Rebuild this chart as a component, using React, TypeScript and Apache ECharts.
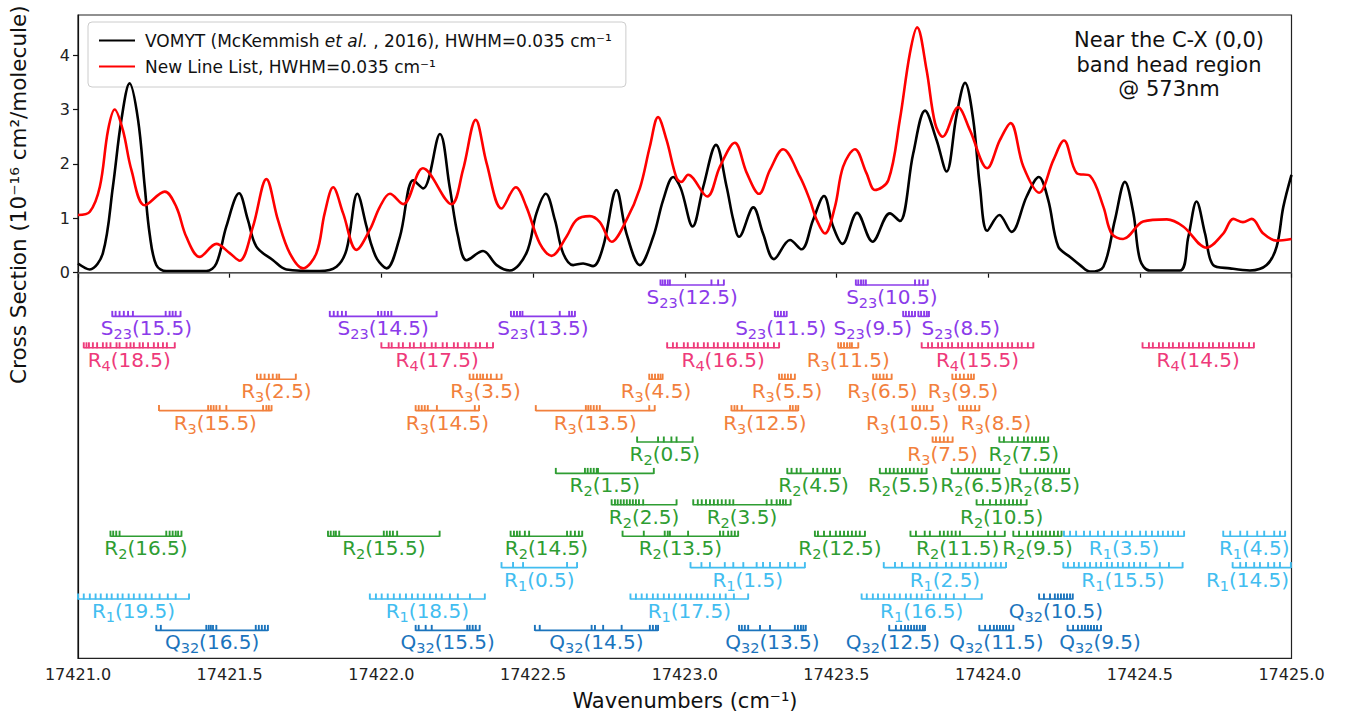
import React, { useEffect, useRef } from "react";
import * as echarts from "echarts";

// ---- Axis ranges and ticks ----
const X_MIN = 17421;
const X_MAX = 17425;
const X_STEP = 0.5;
const Y_MIN = -7.088;
const Y_MAX = 4.737;
const Y_TICKS = [0, 1, 2, 3, 4];

// ---- Cross-section curves: [wavenumber (cm^-1), cross section (1e-16 cm^2/molecule)] ----
const VOMYT_CURVE: [number, number][] = [
  [17421.0, 0.17], [17421.039, 0.06], [17421.082, 0.36], [17421.115, 1.58], [17421.143, 2.81],
  [17421.17, 3.48], [17421.198, 2.81], [17421.22, 1.58], [17421.236, 0.72], [17421.258, 0.14],
  [17421.291, 0.03], [17421.423, 0.03], [17421.456, 0.17], [17421.489, 0.85], [17421.531, 1.46],
  [17421.56, 0.97], [17421.588, 0.48], [17421.643, 0.23], [17421.687, 0.06], [17421.797, 0.03],
  [17421.852, 0.11], [17421.885, 0.42], [17421.921, 1.45], [17421.951, 0.85], [17421.965, 0.55],
  [17421.986, 0.25], [17422.017, 0.08], [17422.061, 0.66], [17422.105, 1.7], [17422.138, 1.55],
  [17422.193, 2.55], [17422.225, 1.58], [17422.253, 0.66], [17422.281, 0.23], [17422.335, 0.4],
  [17422.38, 0.14], [17422.423, 0.04], [17422.478, 0.36], [17422.511, 1.09], [17422.542, 1.45],
  [17422.572, 0.97], [17422.599, 0.36], [17422.632, 0.14], [17422.665, 0.17], [17422.698, 0.12],
  [17422.731, 0.48], [17422.775, 1.52], [17422.808, 0.72], [17422.852, 0.14], [17422.896, 0.66],
  [17422.929, 1.34], [17422.962, 1.76], [17422.987, 1.55], [17423.026, 0.85], [17423.061, 1.58],
  [17423.103, 2.35], [17423.138, 1.58], [17423.16, 0.97], [17423.179, 0.66], [17423.226, 1.2],
  [17423.258, 0.72], [17423.294, 0.25], [17423.347, 0.6], [17423.385, 0.43], [17423.423, 0.97],
  [17423.459, 1.41], [17423.489, 0.85], [17423.52, 0.53], [17423.568, 1.1], [17423.619, 0.57],
  [17423.676, 1.09], [17423.709, 0.95], [17423.753, 2.19], [17423.792, 2.98], [17423.83, 2.44],
  [17423.863, 1.86], [17423.896, 2.9], [17423.924, 3.49], [17423.951, 2.81], [17423.973, 1.58],
  [17423.997, 0.77], [17424.037, 1.06], [17424.077, 0.75], [17424.127, 1.4], [17424.167, 1.76],
  [17424.198, 1.34], [17424.231, 0.48], [17424.27, 0.29], [17424.303, 0.14], [17424.336, 0.02],
  [17424.38, 0.11], [17424.418, 0.97], [17424.451, 1.67], [17424.479, 1.09], [17424.501, 0.23],
  [17424.533, 0.04], [17424.632, 0.04], [17424.66, 0.66], [17424.687, 1.31], [17424.715, 0.72],
  [17424.742, 0.14], [17424.797, 0.08], [17424.863, 0.04], [17424.918, 0.14], [17424.951, 0.48],
  [17424.973, 1.21], [17425.0, 1.8],
];

const NEW_LIST_CURVE: [number, number][] = [
  [17421.0, 1.06], [17421.039, 1.12], [17421.072, 1.58], [17421.099, 2.62], [17421.121, 3.0],
  [17421.148, 2.62], [17421.176, 1.89], [17421.22, 1.24], [17421.286, 1.49], [17421.324, 1.21],
  [17421.357, 0.66], [17421.401, 0.29], [17421.456, 0.53], [17421.5, 0.36], [17421.533, 0.22],
  [17421.577, 0.85], [17421.621, 1.72], [17421.659, 0.97], [17421.698, 0.36], [17421.742, 0.08],
  [17421.786, 0.36], [17421.813, 1.09], [17421.841, 1.57], [17421.874, 1.09], [17421.918, 0.42],
  [17421.962, 0.79], [17421.995, 1.21], [17422.028, 1.45], [17422.072, 1.26], [17422.137, 1.92],
  [17422.231, 1.26], [17422.269, 1.89], [17422.311, 2.81], [17422.347, 2.01], [17422.396, 1.18],
  [17422.443, 1.57], [17422.478, 1.21], [17422.522, 0.54], [17422.561, 0.31], [17422.61, 0.66],
  [17422.643, 0.97], [17422.687, 1.04], [17422.72, 0.93], [17422.759, 0.57], [17422.808, 0.97],
  [17422.852, 1.55], [17422.885, 2.32], [17422.912, 2.86], [17422.94, 2.44], [17422.973, 1.74],
  [17422.989, 1.67], [17423.011, 1.8], [17423.074, 1.4], [17423.116, 1.95], [17423.165, 2.39],
  [17423.204, 1.84], [17423.245, 1.45], [17423.281, 1.89], [17423.324, 2.27], [17423.38, 1.76],
  [17423.412, 1.34], [17423.435, 0.97], [17423.462, 0.72], [17423.495, 1.21], [17423.522, 1.95],
  [17423.561, 2.27], [17423.599, 1.83], [17423.627, 1.52], [17423.671, 1.7], [17423.709, 2.81],
  [17423.742, 4.03], [17423.766, 4.51], [17423.797, 3.73], [17423.825, 2.75], [17423.85, 2.5],
  [17423.901, 3.04], [17423.94, 2.62], [17423.997, 1.92], [17424.039, 2.44], [17424.074, 2.75],
  [17424.116, 1.95], [17424.168, 1.47], [17424.215, 2.07], [17424.25, 2.43], [17424.292, 1.83],
  [17424.336, 1.78], [17424.38, 1.21], [17424.407, 0.72], [17424.445, 0.62], [17424.511, 0.94],
  [17424.589, 0.98], [17424.643, 0.85], [17424.72, 0.46], [17424.775, 0.72], [17424.808, 0.99],
  [17424.84, 0.93], [17424.869, 0.99], [17424.907, 0.72], [17424.951, 0.59], [17425.0, 0.62],
];

// ---- Line assignments: branch, J, row of the stick diagram, line positions (cm^-1) ----
type Assignment = { j: string; row: number; lines: number[]; labelAt?: number };

const S23_LINES: Assignment[] = [
  { j: "12.5", row: 0, lines: [17422.92, 17422.927, 17422.935, 17422.944, 17422.951, 17423.088, 17423.11, 17423.129] },
  { j: "10.5", row: 0, lines: [17423.564, 17423.572, 17423.581, 17423.589, 17423.597, 17423.759, 17423.773, 17423.786, 17423.801] },
  { j: "15.5", row: 1, lines: [17421.113, 17421.124, 17421.137, 17421.151, 17421.165, 17421.181, 17421.289, 17421.302, 17421.312, 17421.322, 17421.338] },
  { j: "14.5", row: 1, lines: [17421.83, 17421.843, 17421.856, 17421.87, 17421.883, 17421.989, 17422.0, 17422.011, 17422.022, 17422.033, 17422.182] },
  { j: "13.5", row: 1, lines: [17422.427, 17422.437, 17422.447, 17422.457, 17422.465, 17422.588, 17422.619, 17422.628, 17422.638] },
  { j: "11.5", row: 1, lines: [17423.297, 17423.307, 17423.317, 17423.327, 17423.336] },
  { j: "9.5", row: 1, lines: [17423.72, 17423.729, 17423.739, 17423.749, 17423.759], labelAt: 17423.62 },
  { j: "8.5", row: 1, lines: [17423.77, 17423.779, 17423.789, 17423.798, 17423.805], labelAt: 17423.91 },
];

const R4_LINES: Assignment[] = [
  { j: "18.5", row: 2, lines: [17421.019, 17421.028, 17421.036, 17421.049, 17421.063, 17421.082, 17421.094, 17421.107, 17421.127, 17421.137, 17421.16, 17421.173, 17421.184, 17421.203, 17421.214, 17421.231, 17421.25, 17421.264, 17421.28, 17421.293, 17421.319] },
  { j: "17.5", row: 2, lines: [17422.0, 17422.024, 17422.034, 17422.057, 17422.071, 17422.094, 17422.107, 17422.13, 17422.143, 17422.166, 17422.179, 17422.202, 17422.216, 17422.239, 17422.252, 17422.275, 17422.288, 17422.311, 17422.325, 17422.348, 17422.368] },
  { j: "16.5", row: 2, lines: [17422.942, 17422.961, 17422.974, 17422.997, 17423.01, 17423.03, 17423.043, 17423.063, 17423.076, 17423.096, 17423.109, 17423.129, 17423.142, 17423.162, 17423.175, 17423.195, 17423.208, 17423.228, 17423.241, 17423.261, 17423.274, 17423.294, 17423.311] },
  { j: "15.5", row: 2, lines: [17423.781, 17423.802, 17423.815, 17423.835, 17423.848, 17423.868, 17423.881, 17423.901, 17423.914, 17423.934, 17423.947, 17423.967, 17423.98, 17424.0, 17424.013, 17424.032, 17424.046, 17424.065, 17424.079, 17424.098, 17424.111, 17424.131, 17424.149] },
  { j: "14.5", row: 2, lines: [17424.509, 17424.53, 17424.543, 17424.563, 17424.576, 17424.596, 17424.609, 17424.629, 17424.642, 17424.662, 17424.675, 17424.695, 17424.708, 17424.728, 17424.741, 17424.761, 17424.774, 17424.794, 17424.807, 17424.827, 17424.84, 17424.86, 17424.876] },
];

const R3_LINES: Assignment[] = [
  { j: "11.5", row: 2, lines: [17423.506, 17423.515, 17423.525, 17423.535, 17423.544, 17423.551, 17423.572] },
  { j: "2.5", row: 3, lines: [17421.59, 17421.602, 17421.615, 17421.629, 17421.642, 17421.655, 17421.663, 17421.718] },
  { j: "3.5", row: 3, lines: [17422.291, 17422.303, 17422.315, 17422.326, 17422.335, 17422.348, 17422.361, 17422.38, 17422.396] },
  { j: "4.5", row: 3, lines: [17422.883, 17422.892, 17422.902, 17422.912, 17422.92, 17422.927] },
  { j: "5.5", row: 3, lines: [17423.311, 17423.32, 17423.33, 17423.34, 17423.35, 17423.363] },
  { j: "6.5", row: 3, lines: [17423.621, 17423.632, 17423.643, 17423.655, 17423.666, 17423.682] },
  { j: "9.5", row: 3, lines: [17423.882, 17423.894, 17423.907, 17423.92, 17423.934, 17423.944, 17423.953] },
  { j: "15.5", row: 4, lines: [17421.267, 17421.429, 17421.438, 17421.447, 17421.456, 17421.467, 17421.489, 17421.61, 17421.621, 17421.629, 17421.638] },
  { j: "14.5", row: 4, lines: [17422.113, 17422.123, 17422.133, 17422.143, 17422.153, 17422.183, 17422.308, 17422.322] },
  { j: "13.5", row: 4, lines: [17422.509, 17422.674, 17422.682, 17422.69, 17422.7, 17422.71, 17422.72, 17422.883, 17422.901] },
  { j: "12.5", row: 4, lines: [17423.154, 17423.164, 17423.173, 17423.188, 17423.347, 17423.356, 17423.366, 17423.374] },
  { j: "10.5", row: 4, lines: [17423.751, 17423.762, 17423.775, 17423.788, 17423.798, 17423.817], labelAt: 17423.735 },
  { j: "8.5", row: 4, lines: [17423.905, 17423.917, 17423.93, 17423.943, 17423.957, 17423.971], labelAt: 17424.026 },
  { j: "7.5", row: 5, lines: [17423.817, 17423.828, 17423.841, 17423.854, 17423.867, 17423.883] },
];

const R2_LINES: Assignment[] = [
  { j: "0.5", row: 5, lines: [17422.843, 17422.912, 17422.931, 17422.956, 17422.973, 17423.026] },
  { j: "7.5", row: 5, lines: [17424.037, 17424.052, 17424.079, 17424.098, 17424.118, 17424.131, 17424.145, 17424.158, 17424.171, 17424.184, 17424.198] },
  { j: "1.5", row: 6, lines: [17422.575, 17422.671, 17422.68, 17422.69, 17422.7, 17422.71, 17422.714, 17422.898] },
  { j: "4.5", row: 6, lines: [17423.338, 17423.352, 17423.369, 17423.382, 17423.423, 17423.437, 17423.456, 17423.468, 17423.482, 17423.495, 17423.511] },
  { j: "5.5", row: 6, lines: [17423.643, 17423.663, 17423.676, 17423.689, 17423.702, 17423.716, 17423.729, 17423.742, 17423.755, 17423.768, 17423.781, 17423.797] },
  { j: "6.5", row: 6, lines: [17423.88, 17423.901, 17423.924, 17423.937, 17423.95, 17423.963, 17423.977, 17423.99, 17424.003, 17424.016, 17424.037] },
  { j: "8.5", row: 6, lines: [17424.107, 17424.128, 17424.155, 17424.171, 17424.184, 17424.197, 17424.21, 17424.224, 17424.237, 17424.25, 17424.267] },
  { j: "2.5", row: 7, lines: [17422.759, 17422.77, 17422.779, 17422.789, 17422.799, 17422.809, 17422.819, 17422.829, 17422.839, 17422.849, 17422.863, 17422.973] },
  { j: "3.5", row: 7, lines: [17423.028, 17423.043, 17423.056, 17423.07, 17423.083, 17423.096, 17423.109, 17423.122, 17423.135, 17423.148, 17423.16, 17423.27, 17423.286, 17423.303, 17423.314, 17423.324, 17423.333, 17423.349] },
  { j: "10.5", row: 7, lines: [17423.962, 17423.983, 17424.006, 17424.026, 17424.042, 17424.055, 17424.069, 17424.082, 17424.095, 17424.108, 17424.127] },
  { j: "16.5", row: 8, lines: [17421.107, 17421.116, 17421.126, 17421.137, 17421.291, 17421.302, 17421.312, 17421.322, 17421.33, 17421.341] },
  { j: "15.5", row: 8, lines: [17421.824, 17421.833, 17421.843, 17421.85, 17421.861, 17422.008, 17422.018, 17422.028, 17422.038, 17422.052, 17422.192] },
  { j: "14.5", row: 8, lines: [17422.426, 17422.437, 17422.447, 17422.456, 17422.473, 17422.487, 17422.612, 17422.624, 17422.638, 17422.651, 17422.662] },
  { j: "13.5", row: 8, lines: [17422.795, 17422.865, 17422.934, 17422.944, 17422.951, 17423.011, 17423.116, 17423.127, 17423.143, 17423.154, 17423.165, 17423.176] },
  { j: "12.5", row: 8, lines: [17423.429, 17423.439, 17423.459, 17423.479, 17423.498, 17423.512, 17423.525, 17423.538, 17423.551, 17423.564, 17423.577, 17423.594] },
  { j: "11.5", row: 8, lines: [17423.744, 17423.762, 17423.791, 17423.808, 17423.841, 17423.854, 17423.867, 17423.88, 17423.893, 17423.907, 17424.0, 17424.022, 17424.055] },
  { j: "9.5", row: 8, lines: [17424.083, 17424.102, 17424.128, 17424.148, 17424.164, 17424.177, 17424.19, 17424.204, 17424.217, 17424.23, 17424.242] },
];

const R1_LINES: Assignment[] = [
  { j: "3.5", row: 8, lines: [17424.25, 17424.27, 17424.29, 17424.316, 17424.336, 17424.362, 17424.382, 17424.408, 17424.428, 17424.454, 17424.474, 17424.501, 17424.52, 17424.54, 17424.56, 17424.576, 17424.593, 17424.609, 17424.626, 17424.646] },
  { j: "4.5", row: 8, lines: [17424.775, 17424.798, 17424.831, 17424.854, 17424.887, 17424.91, 17424.943, 17424.962, 17424.979] },
  { j: "0.5", row: 9, lines: [17422.396, 17422.434, 17422.467, 17422.612, 17422.645] },
  { j: "1.5", row: 9, lines: [17423.019, 17423.055, 17423.083, 17423.132, 17423.16, 17423.193, 17423.237, 17423.258, 17423.281, 17423.314, 17423.341, 17423.363, 17423.396] },
  { j: "2.5", row: 9, lines: [17423.656, 17423.693, 17423.716, 17423.752, 17423.775, 17423.808, 17423.83, 17423.861, 17423.88, 17423.907, 17423.926, 17423.949, 17423.969, 17423.989, 17424.009, 17424.025, 17424.042, 17424.059] },
  { j: "15.5", row: 9, lines: [17424.248, 17424.263, 17424.283, 17424.299, 17424.319, 17424.336, 17424.356, 17424.372, 17424.392, 17424.408, 17424.428, 17424.444, 17424.464, 17424.481, 17424.501, 17424.52, 17424.566, 17424.596, 17424.641] },
  { j: "14.5", row: 9, lines: [17424.806, 17424.831, 17424.85, 17424.877, 17424.896, 17424.923, 17424.943, 17424.962, 17424.998], labelAt: 17424.855 },
  { j: "19.5", row: 10, lines: [17421.0, 17421.019, 17421.039, 17421.058, 17421.075, 17421.095, 17421.111, 17421.131, 17421.147, 17421.167, 17421.184, 17421.203, 17421.223, 17421.243, 17421.269, 17421.296, 17421.322, 17421.366] },
  { j: "18.5", row: 10, lines: [17421.962, 17421.982, 17422.001, 17422.021, 17422.041, 17422.061, 17422.081, 17422.101, 17422.12, 17422.14, 17422.16, 17422.18, 17422.199, 17422.226, 17422.252, 17422.292, 17422.341] },
  { j: "17.5", row: 10, lines: [17422.821, 17422.839, 17422.858, 17422.875, 17422.895, 17422.911, 17422.931, 17422.948, 17422.967, 17422.984, 17423.004, 17423.02, 17423.04, 17423.056, 17423.076, 17423.096, 17423.116, 17423.135, 17423.162, 17423.209] },
  { j: "16.5", row: 10, lines: [17423.583, 17423.6, 17423.62, 17423.637, 17423.656, 17423.673, 17423.692, 17423.709, 17423.729, 17423.745, 17423.765, 17423.781, 17423.801, 17423.821, 17423.841, 17423.861, 17423.887, 17423.923, 17423.979] },
];

const Q32_LINES: Assignment[] = [
  { j: "10.5", row: 10, lines: [17424.168, 17424.184, 17424.204, 17424.22, 17424.23, 17424.24, 17424.25, 17424.26, 17424.27, 17424.279] },
  { j: "16.5", row: 11, lines: [17421.258, 17421.273, 17421.423, 17421.431, 17421.438, 17421.445, 17421.456, 17421.586, 17421.596, 17421.606, 17421.616, 17421.626] },
  { j: "15.5", row: 11, lines: [17422.113, 17422.123, 17422.146, 17422.166, 17422.283, 17422.291, 17422.301, 17422.311, 17422.324] },
  { j: "14.5", row: 11, lines: [17422.506, 17422.522, 17422.693, 17422.704, 17422.731, 17422.792, 17422.885, 17422.895, 17422.905, 17422.912] },
  { j: "13.5", row: 11, lines: [17423.179, 17423.188, 17423.198, 17423.209, 17423.248, 17423.281, 17423.363, 17423.373, 17423.383, 17423.391, 17423.399] },
  { j: "12.5", row: 11, lines: [17423.674, 17423.696, 17423.713, 17423.726, 17423.736, 17423.746, 17423.756, 17423.765, 17423.775, 17423.785, 17423.792], labelAt: 17423.686 },
  { j: "11.5", row: 11, lines: [17423.971, 17423.99, 17424.006, 17424.019, 17424.029, 17424.039, 17424.049, 17424.059, 17424.069, 17424.083] },
  { j: "9.5", row: 11, lines: [17424.262, 17424.28, 17424.296, 17424.309, 17424.319, 17424.329, 17424.339, 17424.349, 17424.359, 17424.372], labelAt: 17424.369 },
];

// Branch label = letter + subscript, with its colour
const BRANCHES = [
  { letter: "S", sub: "23", color: "#8b3bea", items: S23_LINES },
  { letter: "R", sub: "4", color: "#ee3a7a", items: R4_LINES },
  { letter: "R", sub: "3", color: "#f2803c", items: R3_LINES },
  { letter: "R", sub: "2", color: "#2e9d32", items: R2_LINES },
  { letter: "R", sub: "1", color: "#42bdf0", items: R1_LINES },
  { letter: "Q", sub: "32", color: "#1b74bd", items: Q32_LINES },
];

const SERIES_BLACK = "VOMYT (McKemmish et al. , 2016), HWHM=0.035 cm\u207B\u00B9";
const SERIES_RED = "New Line List, HWHM=0.035 cm\u207B\u00B9";

// Stick-diagram rows sit below zero on the same y scale
const ROW_TOP = -0.226;
const ROW_STEP = 0.5772;
const rowValue = (row: number) => ROW_TOP - ROW_STEP * row;

const FONT = "DejaVu Sans";
const LABEL_SIZE = 20;
const SUB_SIZE = 14.5;

let measureCtx: CanvasRenderingContext2D | null = null;
function textWidth(text: string, size: number): number {
  if (!measureCtx) measureCtx = document.createElement("canvas").getContext("2d");
  if (!measureCtx) return text.length * size * 0.6;
  measureCtx.font = `${size}px "${FONT}"`;
  return measureCtx.measureText(text).width;
}

function makeStickSeries(branch: (typeof BRANCHES)[number]) {
  const { letter, sub, color, items } = branch;
  return {
    type: "custom",
    name: letter + sub,
    silent: true,
    clip: false,
    encode: { x: 0, y: 1 },
    data: items.map((a, i) => [(a.lines[0] + a.lines[a.lines.length - 1]) / 2, rowValue(a.row), i]),
    renderItem: (params: any, api: any) => {
      const a = items[params.dataIndex];
      const yv = rowValue(a.row);
      const pts = a.lines.map((w) => api.coord([w, yv]));
      const y0 = pts[0][1];
      const children: any[] = [
        {
          type: "line",
          shape: { x1: pts[0][0], y1: y0, x2: pts[pts.length - 1][0], y2: y0 },
          style: { stroke: color, lineWidth: 1.6 },
        },
      ];
      pts.forEach((p: number[]) => {
        children.push({
          type: "line",
          shape: { x1: p[0], y1: y0 + 0.5, x2: p[0], y2: y0 - 5.5 },
          style: { stroke: color, lineWidth: 1.9 },
        });
      });
      const rest = `(${a.j})`;
      const wMain = textWidth(letter, LABEL_SIZE);
      const wSub = textWidth(sub, SUB_SIZE);
      const wRest = textWidth(rest, LABEL_SIZE);
      const centre = a.labelAt ?? (a.lines[0] + a.lines[a.lines.length - 1]) / 2;
      const cx = api.coord([centre, yv])[0];
      const x0 = cx - (wMain + wSub + wRest) / 2;
      const base = { fill: color, fontFamily: FONT, align: "left", verticalAlign: "middle" };
      children.push(
        { type: "text", x: x0, y: y0 + 12, style: { ...base, text: letter, fontSize: LABEL_SIZE } },
        { type: "text", x: x0 + wMain, y: y0 + 18, style: { ...base, text: sub, fontSize: SUB_SIZE } },
        { type: "text", x: x0 + wMain + wSub, y: y0 + 12, style: { ...base, text: rest, fontSize: LABEL_SIZE } }
      );
      return { type: "group", children };
    },
  };
}

export default function App() {
  const ref = useRef<HTMLDivElement>(null);

  useEffect(() => {
    if (!ref.current) return;
    const chart = echarts.init(ref.current, null, { renderer: "svg" });
    const option: any = {
      animation: false,
      backgroundColor: "#ffffff",
      textStyle: { fontFamily: FONT },
      grid: {
        left: 78,
        right: 61.5,
        top: 15,
        bottom: 57.7,
        show: true,
        borderColor: "#222",
        borderWidth: 1.2,
        backgroundColor: "transparent",
      },
      legend: {
        left: 88,
        top: 22,
        orient: "vertical",
        data: [SERIES_BLACK, SERIES_RED],
        itemWidth: 36,
        itemHeight: 20,
        itemGap: 9,
        padding: [10, 14, 12, 10],
        itemStyle: { opacity: 0 },
        backgroundColor: "rgba(255,255,255,0.85)",
        borderColor: "#cccccc",
        borderWidth: 1,
        borderRadius: 4,
        formatter: (name: string) => name.replace("et al.", "{i|et al.}"),
        textStyle: {
          fontFamily: FONT,
          fontSize: 17,
          color: "#111",
          padding: [0, 0, 0, 5],
          rich: { i: { fontStyle: "italic", fontFamily: FONT, fontSize: 17, color: "#111" } },
        },
      },
      xAxis: {
        type: "value",
        min: X_MIN,
        max: X_MAX,
        interval: X_STEP,
        axisLine: { show: true, lineStyle: { color: "#111", width: 1.2 } },
        axisTick: { show: true, length: 5, lineStyle: { color: "#111", width: 1.2 } },
        axisLabel: {
          color: "#222",
          fontSize: 16,
          fontFamily: FONT,
          margin: 8,
          formatter: (v: number) => v.toFixed(1),
        },
        splitLine: { show: false },
      },
      yAxis: {
        type: "value",
        min: Y_MIN,
        max: Y_MAX,
        axisLine: { show: true, lineStyle: { color: "#111", width: 1.2 } },
        axisTick: { show: true, length: 5, customValues: Y_TICKS, lineStyle: { color: "#111", width: 1.2 } },
        axisLabel: { color: "#222", fontSize: 16, fontFamily: FONT, margin: 8, customValues: Y_TICKS },
        splitLine: { show: false },
      },
      series: [
        {
          name: SERIES_BLACK,
          type: "line",
          data: VOMYT_CURVE,
          smooth: 0.35,
          symbol: "none",
          lineStyle: { color: "#000", width: 2.6 },
          itemStyle: { color: "#000" },
          z: 4,
          markLine: {
            silent: true,
            symbol: "none",
            label: { show: false },
            lineStyle: { color: "#666", width: 1.6, type: "solid" },
            data: [{ yAxis: 0 }],
          },
        },
        {
          name: SERIES_RED,
          type: "line",
          data: NEW_LIST_CURVE,
          smooth: 0.35,
          symbol: "none",
          lineStyle: { color: "#ff0000", width: 2.6 },
          itemStyle: { color: "#ff0000" },
          z: 5,
        },
        ...BRANCHES.map(makeStickSeries),
      ],
      graphic: [
        {
          type: "text",
          x: 1169,
          y: 28,
          style: {
            text: "Near the C-X (0,0)\nband head region\n@ 573nm",
            fontFamily: FONT,
            fontSize: 21,
            lineHeight: 24.5,
            fill: "#111",
            align: "center",
            verticalAlign: "top",
          },
        },
        {
          type: "text",
          x: 685,
          y: 701,
          style: {
            text: "Wavenumbers (cm\u207B\u00B9)",
            fontFamily: FONT,
            fontSize: 21,
            fill: "#111",
            align: "center",
            verticalAlign: "middle",
          },
        },
        {
          type: "text",
          x: 18,
          y: 384,
          rotation: Math.PI / 2,
          style: {
            text: "Cross Section (10\u207B\u00B9\u2076 cm\u00B2/molecule)",
            fontFamily: FONT,
            fontSize: 21.5,
            fill: "#111",
            align: "left",
            verticalAlign: "middle",
          },
        },
      ],
    };
    chart.setOption(option);
    return () => chart.dispose();
  }, []);

  return (
    <div
      ref={ref}
      style={{ position: "fixed", left: 0, top: 0, width: 1353, height: 716, background: "#fff" }}
    />
  );
}
